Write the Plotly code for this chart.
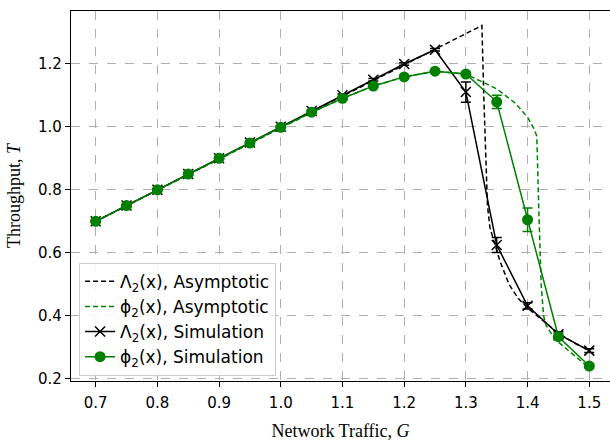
import plotly.graph_objects as go

# ---------------- data ----------------
G_sim = [0.70, 0.75, 0.80, 0.85, 0.90, 0.95, 1.00, 1.05, 1.10, 1.15, 1.20, 1.25, 1.30, 1.35, 1.40, 1.45, 1.50]
lam_sim = [0.700, 0.750, 0.800, 0.850, 0.900, 0.950, 1.000, 1.050, 1.100, 1.149, 1.199, 1.244, 1.110, 0.625, 0.432, 0.342, 0.290]
lam_err = [0.003, 0.003, 0.003, 0.003, 0.003, 0.003, 0.003, 0.003, 0.004, 0.004, 0.004, 0.004, 0.032, 0.024, 0.010, 0.008, 0.006]
phi_sim = [0.700, 0.750, 0.800, 0.850, 0.900, 0.948, 0.998, 1.046, 1.090, 1.129, 1.158, 1.176, 1.167, 1.079, 0.705, 0.334, 0.241]
phi_err = [0.003, 0.003, 0.003, 0.003, 0.003, 0.003, 0.003, 0.003, 0.004, 0.004, 0.004, 0.004, 0.006, 0.021, 0.037, 0.010, 0.006]

lam_asym_G = [0.70, 1.326, 1.329, 1.332, 1.335, 1.339, 1.345, 1.355, 1.370, 1.385, 1.400, 1.425, 1.450, 1.475, 1.500]
lam_asym_T = [0.70, 1.321, 1.100, 0.920, 0.750, 0.680, 0.640, 0.575, 0.500, 0.455, 0.425, 0.385, 0.345, 0.315, 0.290]

phi_asym_G = [0.70, 1.05, 1.10, 1.15, 1.20, 1.25, 1.30, 1.32, 1.35, 1.38, 1.40, 1.41, 1.415, 1.418, 1.422, 1.426, 1.43, 1.445, 1.47, 1.50]
phi_asym_T = [0.70, 1.045, 1.09, 1.129, 1.158, 1.176, 1.167, 1.148, 1.120, 1.075, 1.030, 0.995, 0.970, 0.750, 0.500, 0.400, 0.370, 0.325, 0.285, 0.235]

x_ticks = [0.7, 0.8, 0.9, 1.0, 1.1, 1.2, 1.3, 1.4, 1.5]
x_tick_labels = ["0.7", "0.8", "0.9", "1.0", "1.1", "1.2", "1.3", "1.4", "1.5"]
y_ticks = [0.2, 0.4, 0.6, 0.8, 1.0, 1.2]
y_tick_labels = ["0.2", "0.4", "0.6", "0.8", "1.0", "1.2"]

GREEN = "#008000"
BLACK = "#000000"
SANS = "DejaVu Sans, Liberation Sans, Arial, sans-serif"
SERIF = "Liberation Serif, Times New Roman, serif"

fig = go.Figure()

fig.add_trace(go.Scatter(
    x=lam_asym_G, y=lam_asym_T, mode="lines",
    line=dict(color=BLACK, width=1.5, dash="5px,3px"),
    name="Λ<sub>2</sub>(x), Asymptotic", legendgroup="a"))

fig.add_trace(go.Scatter(
    x=phi_asym_G, y=phi_asym_T, mode="lines",
    line=dict(color=GREEN, width=1.5, dash="5px,3px"),
    name="ϕ<sub>2</sub>(x), Asymptotic", legendgroup="b"))

fig.add_trace(go.Scatter(
    x=G_sim, y=lam_sim, mode="lines+markers",
    line=dict(color=BLACK, width=1.5),
    marker=dict(symbol="x-thin", size=10, color=BLACK, line=dict(color=BLACK, width=1.5)),
    error_y=dict(type="data", array=lam_err, visible=True, color=BLACK, thickness=1.5, width=5),
    name="Λ<sub>2</sub>(x), Simulation", legendgroup="c"))

fig.add_trace(go.Scatter(
    x=G_sim, y=phi_sim, mode="lines+markers",
    line=dict(color=GREEN, width=1.5),
    marker=dict(symbol="circle", size=11, color=GREEN),
    error_y=dict(type="data", array=phi_err, visible=True, color=GREEN, thickness=1.5, width=5),
    name="ϕ<sub>2</sub>(x), Simulation", legendgroup="d"))

fig.update_layout(
    width=610, height=443,
    margin=dict(l=71, r=0, t=11, b=62),
    paper_bgcolor="white", plot_bgcolor="white",
    font=dict(family=SANS, size=15, color=BLACK),
    legend=dict(
        x=0.015, y=0.014, xanchor="left", yanchor="bottom",
        bgcolor="rgba(255,255,255,0.85)", bordercolor="#cccccc", borderwidth=1,
        font=dict(family=SANS, size=17),
        tracegroupgap=8, traceorder="normal", itemwidth=30),
    showlegend=True,
)

fig.update_xaxes(
    range=[0.66, 1.5336],
    tickmode="array", tickvals=x_ticks, ticktext=x_tick_labels,
    ticks="outside", ticklen=5, tickwidth=1, tickcolor=BLACK,
    tickfont=dict(family=SANS, size=15), ticklabelstandoff=3,
    showline=True, linecolor=BLACK, linewidth=1.2, mirror=True,
    showgrid=True, gridcolor="#b0b0b0", gridwidth=1, griddash="dash",
    zeroline=False,
    title=dict(text="Network Traffic, <i>G</i>",
               font=dict(family=SERIF, size=18), standoff=13),
)
fig.update_yaxes(
    range=[0.1936, 1.367],
    tickmode="array", tickvals=y_ticks, ticktext=y_tick_labels,
    ticks="outside", ticklen=5, tickwidth=1, tickcolor=BLACK,
    tickfont=dict(family=SANS, size=15),
    showline=True, linecolor=BLACK, linewidth=1.2, mirror=False,
    showgrid=True, gridcolor="#b0b0b0", gridwidth=1, griddash="dash",
    zeroline=False,
    title=dict(text="Throughput, <i>T</i>",
               font=dict(family=SERIF, size=18), standoff=12),
)

fig.write_html("out.html")
